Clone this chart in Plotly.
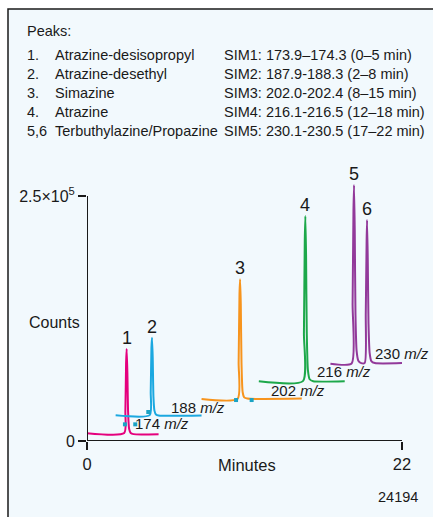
import plotly.graph_objects as go

# ---------------- data ----------------
x_sim1 = [0.0, 2.60, 2.68, 2.73, 2.77, 2.82, 2.87, 2.94, 3.05, 3.25, 5.0]
y_sim1 = [8000, 8100, 30000, 80000, 94000, 70000, 30000, 12500, 8200, 7000, 7000]

x_sim2 = [2.0, 4.38, 4.45, 4.50, 4.54, 4.59, 4.64, 4.71, 4.82, 5.00, 8.0]
y_sim2 = [26200, 26400, 50000, 95000, 105400, 85000, 45000, 31000, 27000, 26000, 26000]

x_sim3 = [8.0, 10.52, 10.59, 10.65, 10.69, 10.74, 10.79, 10.87, 10.98, 11.2, 15.0]
y_sim3 = [42900, 43100, 80000, 150000, 165000, 140000, 80000, 50000, 44500, 43300, 43300]

x_sim4 = [12.0, 15.08, 15.15, 15.21, 15.25, 15.30, 15.35, 15.43, 15.55, 15.8, 18.0]
y_sim4 = [60900, 61100, 110000, 205000, 229600, 190000, 110000, 72000, 63000, 61000, 61000]

x_sim5 = [17.0, 18.48, 18.55, 18.61, 18.65, 18.70, 18.75, 18.83, 18.95, 19.15,
          19.40, 19.47, 19.53, 19.56, 19.61, 19.66, 19.74, 19.86, 20.1, 22.0]
y_sim5 = [78900, 79100, 140000, 235000, 261200, 215000, 130000, 92000, 82000, 79500,
          79700, 130000, 205000, 225500, 185000, 120000, 90000, 81500, 79500, 79500]

sim_x = [x_sim1, x_sim2, x_sim3, x_sim4, x_sim5]
sim_y = [y_sim1, y_sim2, y_sim3, y_sim4, y_sim5]
sim_colors = ["#E5007D", "#1BA8E0", "#F7941D", "#1DA84A", "#92399A"]

# peak labels (peak number, retention time, peak height)
peak_names = ["1", "2", "3", "4", "5", "6"]
peak_rt = [2.77, 4.54, 10.69, 15.25, 18.65, 19.56]
peak_top = [94000, 105400, 165000, 229600, 261200, 225500]

# m/z labels (text, x, y)
mz_text = ["174", "188", "202", "216", "230"]
mz_x = [3.21, 5.75, 12.73, 15.92, 20.0]
mz_y = [18000, 34400, 51300, 70700, 88800]

# integration markers
mark_x = [2.65, 3.37, 4.28, 10.41, 11.50]
mark_y = [17000, 17000, 29600, 41800, 41800]

# header table
peaks_num = ["1.", "2.", "3.", "4.", "5,6"]
peaks_cmp = ["Atrazine-desisopropyl", "Atrazine-desethyl", "Simazine", "Atrazine",
             "Terbuthylazine/Propazine"]
peaks_sim = ["SIM1: 173.9\u2013174.3 (0\u20135 min)", "SIM2: 187.9-188.3 (2\u20138 min)",
             "SIM3: 202.0-202.4 (8\u201315 min)", "SIM4: 216.1-216.5 (12\u201318 min)",
             "SIM5: 230.1-230.5 (17\u201322 min)"]

x_ticks = [0, 22]
y_ticks = [0, 250000]
y_tick_text = ["0", "2.5\u00d710<sup>5</sup>"]

# ---------------- layout geometry ----------------
W, H = 433, 517
L, R, T, B = 87, 31, 167, 76
plot_w = W - L - R
plot_h = H - T - B
y_top = 250000 * plot_h / 245.0

def px(xp):
    return (xp - L) / plot_w

def py(yp):
    return (H - B - yp) / plot_h

FONT = "Liberation Sans, Arial, Helvetica, sans-serif"
INK = "#1a1a1a"

fig = go.Figure()
for xs, ys, c in zip(sim_x, sim_y, sim_colors):
    fig.add_trace(go.Scatter(x=xs, y=ys, mode="lines",
                             line=dict(color=c, width=2, shape="spline", smoothing=0.6),
                             cliponaxis=False, showlegend=False, hoverinfo="skip"))

fig.add_trace(go.Scatter(x=mark_x, y=mark_y, mode="markers",
                         marker=dict(symbol="square", size=4, color="#1AA3C4"),
                         cliponaxis=False, showlegend=False, hoverinfo="skip"))

ann = []
for n, xr, yt in zip(peak_names, peak_rt, peak_top):
    ann.append(dict(x=xr, y=yt, xref="x", yref="y", text=n, showarrow=False,
                    yanchor="middle", xanchor="center", yshift=11,
                    font=dict(family=FONT, size=18, color=INK)))
for t, xx, yy in zip(mz_text, mz_x, mz_y):
    ann.append(dict(x=xx, y=yy, xref="x", yref="y", text=t + " <i>m/z</i>",
                    showarrow=False, xanchor="left", yanchor="middle",
                    font=dict(family=FONT, size=15, color=INK)))

# header
HDR = 14.5
ann.append(dict(x=px(25), y=py(31), xref="paper", yref="paper", text="Peaks:",
                showarrow=False, xanchor="left", yanchor="middle",
                font=dict(family=FONT, size=HDR, color=INK)))
row_y = [55, 74, 93, 112, 131]
for i in range(5):
    for col_x, txt in [(25, peaks_num[i]), (53, peaks_cmp[i]), (222, peaks_sim[i])]:
        ann.append(dict(x=px(col_x), y=py(row_y[i]), xref="paper", yref="paper", text=txt,
                        showarrow=False, xanchor="left", yanchor="middle",
                        font=dict(family=FONT, size=HDR, color=INK)))

ann.append(dict(x=px(82), y=py(322), xref="paper", yref="paper", text="Counts",
                showarrow=False, xanchor="right", yanchor="middle",
                font=dict(family=FONT, size=16, color=INK)))
ann.append(dict(x=px(247), y=py(465), xref="paper", yref="paper", text="Minutes",
                showarrow=False, xanchor="center", yanchor="middle",
                font=dict(family=FONT, size=16.5, color=INK)))
ann.append(dict(x=px(420), y=py(497), xref="paper", yref="paper", text="24194",
                showarrow=False, xanchor="right", yanchor="middle",
                font=dict(family=FONT, size=14.5, color=INK)))

shapes = [
    dict(type="rect", xref="paper", yref="paper", x0=px(8), x1=px(445), y0=py(530), y1=py(9),
         line=dict(color=INK, width=1.5), fillcolor="#F2F9FD", layer="below"),
    dict(type="line", xref="x", yref="y", x0=0, x1=0, y0=0, y1=250000,
         line=dict(color=INK, width=2)),
    dict(type="line", xref="x", yref="y", x0=0, x1=22, y0=0, y1=0,
         line=dict(color=INK, width=2)),
]

fig.update_layout(
    width=W, height=H, margin=dict(l=L, r=R, t=T, b=B, pad=0),
    paper_bgcolor="white", plot_bgcolor="rgba(0,0,0,0)",
    annotations=ann, shapes=shapes, showlegend=False,
    xaxis=dict(range=[0, 22], tickvals=x_ticks, ticktext=[str(v) for v in x_ticks],
               ticks="outside", ticklen=8, tickwidth=2, tickcolor=INK,
               showgrid=False, zeroline=False, showline=False,
               tickfont=dict(family=FONT, size=16.5, color=INK), fixedrange=True),
    yaxis=dict(range=[0, y_top], tickvals=y_ticks, ticktext=y_tick_text,
               ticks="outside", ticklen=8, tickwidth=2, tickcolor=INK,
               showgrid=False, zeroline=False, showline=False,
               tickfont=dict(family=FONT, size=16, color=INK), fixedrange=True),
)

fig.write_html("out.html")
